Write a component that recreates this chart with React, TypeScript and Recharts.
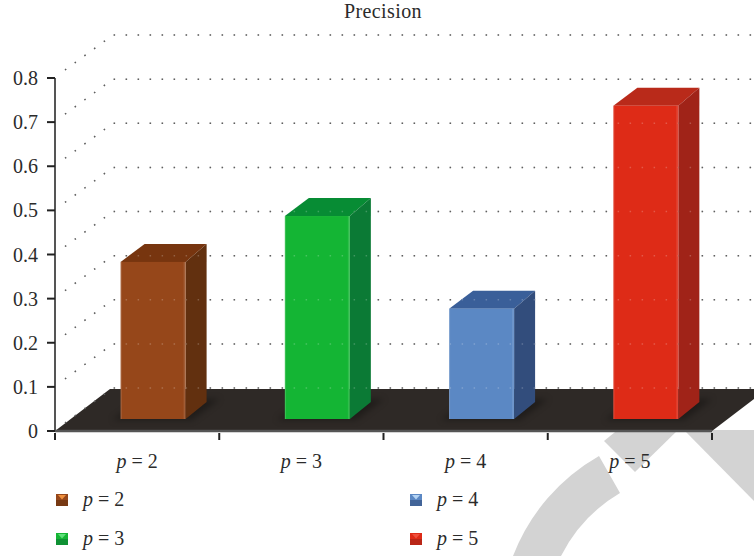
import React from 'react';
import { BarChart, Bar, XAxis, YAxis, Legend, CartesianGrid, ReferenceLine } from 'recharts';

const categories = ['2', '3', '4', '5'];
const precision = [0.356, 0.46, 0.25, 0.71];
const yTicks = [0, 0.1, 0.2, 0.3, 0.4, 0.5, 0.6, 0.7, 0.8];

const frontColors = ['#96471a', '#14b534', '#5b88c4', '#de2b17'];
const topColors = ['#77350f', '#078c34', '#3a5f99', '#b92a1a'];
const sideColors = ['#62300f', '#0b7a35', '#324d7c', '#a02318'];
const glossColors = ['#f0903c', '#5fe07a', '#b4d4f4', '#f0503c'];

const WIDTH = 754;
const HEIGHT = 556;
const MARGIN = { top: 78, right: 42, bottom: 0, left: 0 };
const AXIS_LEFT = 55;
const BAND = (WIDTH - MARGIN.right - AXIS_LEFT) / categories.length;
const FONT = '"Liberation Serif", serif';
const TEXT = '#2b2b2b';

// depth of the floor and back wall
const DEPTH_X = 55;
const DEPTH_Y = 42;

const data = categories.map((p, i) => ({ name: p, precision: precision[i] }));

const wallPath = (x1: number, y1: number) =>
  `M${x1 + 10} ${y1 - 8} L${x1 + 58} ${y1 - 43} H${WIDTH}`;

// Each grid line runs up the side wall and along the back wall; the zero line also lays the floor
const WallLine = ({ x1, x2, y1 }: any) => {
  const isFloor = Math.abs(y1 - 431) < 2;
  return (
    <g>
      {isFloor && (
        <>
          <polygon
            points={`${x1},${y1} ${x1 + DEPTH_X},${y1 - DEPTH_Y} ${x2 + DEPTH_X},${y1 - DEPTH_Y} ${x2},${y1}`}
            fill="#2e2926"
          />
          <line x1={x1} x2={x2} y1={y1} y2={y1} stroke="#555" strokeWidth={2.5} />
        </>
      )}
      <path d={wallPath(x1, y1)} fill="none" stroke="#333" strokeWidth={1.5} strokeDasharray="1.5 10.5" />
    </g>
  );
};

const GridDotsFaint = ({ x1, y1 }: any) => (
  <path d={wallPath(x1, y1)} fill="none" stroke="#fff" strokeOpacity={0.22} strokeWidth={1.5} strokeDasharray="1.5 10.5" />
);

// Cuboid standing part way into the floor
const Cuboid = ({ x, y, width, height, index }: any) => {
  const left = x + 15.6;
  const right = left + width;
  const top = y - 12;
  const bottom = top + height;
  return (
    <g>
      <polygon
        points={`${left - 8},${bottom + 1} ${left + 20},${bottom - 20} ${right + 34},${bottom - 20} ${right + 6},${bottom + 1}`}
        fill="#141210"
        opacity={0.55}
        style={{ filter: 'blur(3px)' }}
      />
      <polygon
        points={`${left},${top} ${left + 24},${top - 18} ${right + 21},${top - 18} ${right},${top}`}
        fill={topColors[index]}
      />
      <polygon
        points={`${right},${top} ${right + 21},${top - 18} ${right + 21},${bottom - 17} ${right},${bottom}`}
        fill={sideColors[index]}
      />
      <rect x={left} y={top} width={width} height={height} fill={frontColors[index]} />
      <line x1={left + 0.5} x2={left + 0.5} y1={top} y2={bottom} stroke="#fff" strokeOpacity={0.18} />
      <line x1={right - 1} x2={right - 1} y1={top} y2={bottom} stroke="#fff" strokeOpacity={0.12} strokeWidth={2} />
    </g>
  );
};

const CategoryTick = ({ x, y, payload, index }: any) => (
  <g>
    <line x1={x - BAND / 2} x2={x - BAND / 2} y1={y - 6} y2={y + 1} stroke="#222" strokeWidth={2} />
    {index === categories.length - 1 && (
      <line x1={x + BAND / 2} x2={x + BAND / 2} y1={y - 6} y2={y + 1} stroke="#222" strokeWidth={2} />
    )}
    <text x={x} y={y + 29} textAnchor="middle" fontFamily={FONT} fontSize={20} fill={TEXT}>
      <tspan fontStyle="italic">p</tspan>
      <tspan> = {payload.value}</tspan>
    </text>
  </g>
);

const Swatch = ({ index }: { index: number }) => (
  <svg width={12} height={12} style={{ display: 'block' }}>
    <rect width={12} height={12} fill={frontColors[index]} />
    <rect y={6} width={12} height={6} fill={sideColors[index]} opacity={0.6} />
    <polygon points="2,1 10,1 6,5.5" fill={glossColors[index]} />
  </svg>
);

const LegendRows = () => (
  <div
    style={{
      display: 'grid',
      gridTemplateColumns: '354px 200px',
      gridTemplateRows: '39px 39px',
      gridAutoFlow: 'column',
      fontFamily: FONT,
      fontSize: 20,
      color: TEXT,
    }}
  >
    {categories.map((p, i) => (
      <div key={p} style={{ display: 'flex', alignItems: 'center' }}>
        <Swatch index={i} />
        <span style={{ marginLeft: 15 }}>
          <i>p</i> = {p}
        </span>
      </div>
    ))}
  </div>
);

export default function App() {
  return (
    <div style={{ position: 'absolute', left: 0, top: 0, width: WIDTH, height: HEIGHT, overflow: 'hidden', background: '#fff' }}>
      {/* grey stamp running behind the chart */}
      <svg width={WIDTH} height={HEIGHT} style={{ position: 'absolute', left: 0, top: 0 }}>
        <g fill="#d3d3d3">
          <path d="M513 556 A196 196 0 0 1 599 456 L620 493 A153 153 0 0 0 561 556 Z" />
          <polygon points="604,441 620,428 680,428 635,472" />
          <polygon points="685,431 754,501 754,430 685,430" />
        </g>
      </svg>
      <div style={{ position: 'absolute', left: 0, top: 0 }}>
        <BarChart width={WIDTH} height={HEIGHT} data={data} margin={MARGIN}>
          <text x={383} y={18} textAnchor="middle" fontFamily={FONT} fontSize={20} letterSpacing={0.4} fill={TEXT}>
            Precision
          </text>
          <CartesianGrid vertical={false} horizontal={<WallLine />} syncWithTicks />
          <XAxis
            dataKey="name"
            height={125}
            axisLine={false}
            tickLine={false}
            interval={0}
            tick={<CategoryTick />}
          />
          <YAxis
            width={AXIS_LEFT}
            domain={[0, 0.8]}
            ticks={yTicks}
            interval={0}
            tickFormatter={(v: number) => String(v)}
            axisLine={{ stroke: '#555', strokeWidth: 2 }}
            tickLine={{ stroke: '#222', strokeWidth: 2 }}
            tickSize={8}
            tickMargin={9}
            tick={{ fontFamily: FONT, fontSize: 20, fill: TEXT }}
          />
          <Bar dataKey="precision" barSize={65} isAnimationActive={false} shape={<Cuboid />} />
          {yTicks.map((t) => (
            <ReferenceLine key={t} y={t} ifOverflow="visible" shape={<GridDotsFaint />} />
          ))}
          <Legend
            layout="horizontal"
            verticalAlign="middle"
            content={<LegendRows />}
            wrapperStyle={{ left: 56, top: 480, width: 560, height: 78 }}
          />
        </BarChart>
      </div>
    </div>
  );
}
